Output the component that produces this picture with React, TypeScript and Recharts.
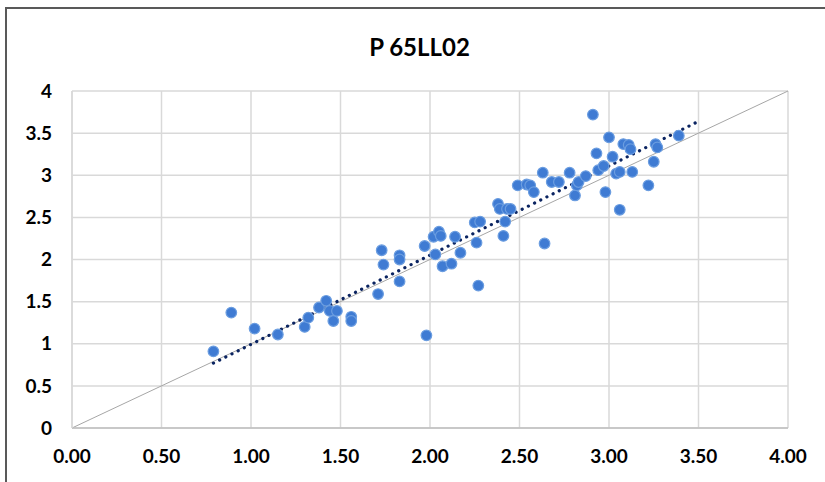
import {
  CartesianGrid,
  ReferenceLine,
  Scatter,
  ScatterChart,
  XAxis,
  YAxis,
} from "recharts";

const measuredX = [
  0.79, 0.89, 1.02, 1.15, 1.3, 1.32, 1.38, 1.42, 1.44, 1.46, 1.48, 1.56, 1.56,
  1.71, 1.73, 1.74, 1.83, 1.83, 1.83, 1.97, 1.98, 2.02, 2.03, 2.05, 2.06, 2.07,
  2.12, 2.14, 2.17, 2.25, 2.26, 2.27, 2.28, 2.38, 2.39, 2.41, 2.42, 2.43, 2.45,
  2.49, 2.54, 2.56, 2.58, 2.63, 2.64, 2.68, 2.72, 2.78, 2.81, 2.82, 2.83, 2.87,
  2.91, 2.93, 2.94, 2.97, 2.98, 3.0, 3.02, 3.04, 3.06, 3.06, 3.08, 3.11, 3.12,
  3.13, 3.22, 3.25, 3.26, 3.27, 3.39,
];
const measuredY = [
  0.91, 1.37, 1.18, 1.11, 1.2, 1.31, 1.43, 1.51, 1.39, 1.27, 1.39, 1.32, 1.27,
  1.59, 2.11, 1.94, 2.05, 2.0, 1.74, 2.16, 1.1, 2.27, 2.06, 2.33, 2.28, 1.92,
  1.95, 2.27, 2.08, 2.44, 2.2, 1.69, 2.45, 2.66, 2.6, 2.28, 2.45, 2.6, 2.6,
  2.88, 2.89, 2.88, 2.8, 3.03, 2.19, 2.92, 2.92, 3.03, 2.76, 2.88, 2.92, 2.99,
  3.72, 3.26, 3.06, 3.11, 2.8, 3.45, 3.22, 3.02, 3.04, 2.59, 3.37, 3.36, 3.31,
  3.04, 2.88, 3.16, 3.37, 3.33, 3.47,
];
const trendStart = { x: 0.79, y: 0.77 };
const trendEnd = { x: 3.5, y: 3.64 };
const xTicks = [0, 0.5, 1, 1.5, 2, 2.5, 3, 3.5, 4];
const yTicks = [0, 0.5, 1, 1.5, 2, 2.5, 3, 3.5, 4];

const points = measuredX.map((x, i) => ({ x, y: measuredY[i] }));

const tickStyle = { fontFamily: "Lato", fontWeight: 700, fontSize: 19, fill: "#000" };

const Dot = (props: any) => (
  <circle cx={props.cx} cy={props.cy} r={5.3} fill="#3f7bd3" stroke="#6b9de0" strokeWidth={1.2} />
);

export default function App() {
  return (
    <div style={{ position: "fixed", left: 0, top: 0, width: 825, height: 482, background: "#fff" }}>
      <div
        style={{
          position: "absolute",
          left: 5,
          top: 7,
          width: 900,
          height: 600,
          borderTop: "2px solid #595959",
          borderLeft: "2px solid #595959",
        }}
      />
      <div
        style={{
          position: "absolute",
          left: 0,
          top: 32,
          width: 839,
          textAlign: "center",
          fontFamily: "Lato",
          fontWeight: 700,
          fontSize: 24,
          lineHeight: "30px",
          color: "#000",
        }}
      >
        P 65LL02
      </div>
      <div style={{ position: "absolute", left: 0, top: 0 }}>
        <ScatterChart width={825} height={482} margin={{ top: 91, right: 37, bottom: 4, left: 0 }}>
          <CartesianGrid stroke="#d9d9d9" strokeWidth={1.5} />
          <XAxis
            type="number"
            dataKey="x"
            domain={[0, 4]}
            ticks={xTicks}
            tickFormatter={(v: number) => v.toFixed(2)}
            height={50}
            tickLine={false}
            tickSize={0}
            tickMargin={22}
            axisLine={{ stroke: "#bfbfbf", strokeWidth: 1.5 }}
            tick={tickStyle}
            interval={0}
          />
          <YAxis
            type="number"
            dataKey="y"
            domain={[0, 4]}
            ticks={yTicks}
            tickFormatter={(v: number) => String(v)}
            width={72}
            tickLine={false}
            tickSize={0}
            tickMargin={20}
            axisLine={{ stroke: "#d9d9d9", strokeWidth: 1.5 }}
            tick={tickStyle}
            interval={0}
          />
          <ReferenceLine
            segment={[{ x: 0, y: 0 }, { x: 4, y: 4 }]}
            stroke="#a6a6a6"
            strokeWidth={1}
          />
          <Scatter data={points} shape={Dot} isAnimationActive={false} />
          <ReferenceLine
            segment={[trendStart, trendEnd]}
            stroke="#0b2461"
            strokeWidth={3.2}
            strokeDasharray="0.1 6.8"
            strokeLinecap="round"
          />
        </ScatterChart>
      </div>
    </div>
  );
}
